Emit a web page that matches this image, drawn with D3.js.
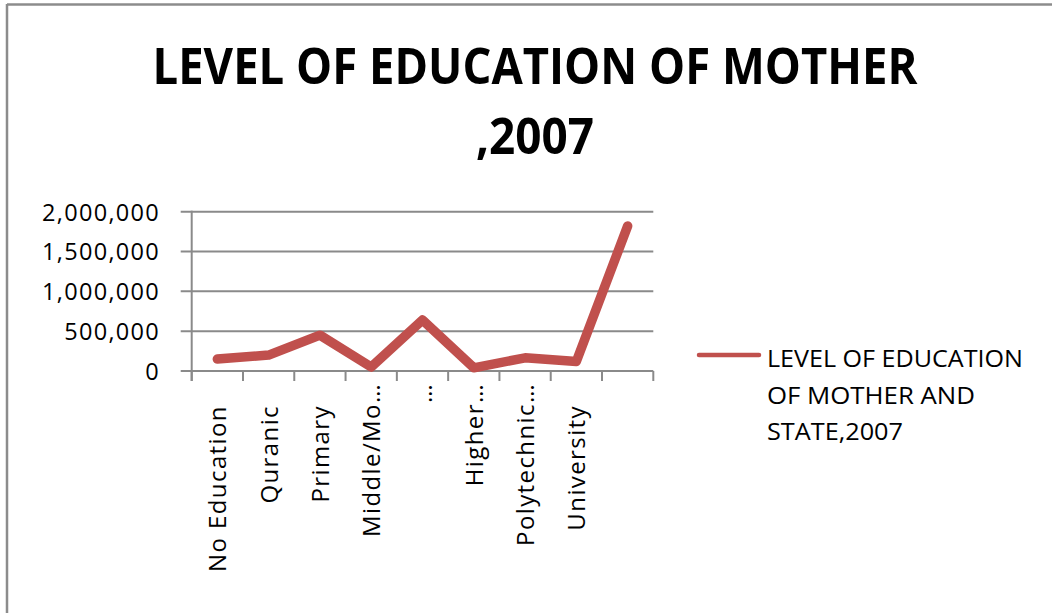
<!DOCTYPE html>
<html>
<head>
<meta charset="utf-8">
<script src="https://cdn.jsdelivr.net/npm/d3@7"></script>
<style>
  html, body { margin: 0; padding: 0; background: #fff; }
  svg { display: block; }
</style>
</head>
<body>
<svg id="chart" width="1052" height="613"></svg>
<script>
// ---- data ----
const categories = ["No Education", "Quranic", "Primary", "Middle/Mo\u2026", "\u2026", "Higher\u2026", "Polytechnic\u2026", "University", ""];
const values = [150000, 200000, 450000, 50000, 640000, 40000, 165000, 120000, 1820000];
const yTicks = [0, 500000, 1000000, 1500000, 2000000];
const titleLines = ["LEVEL OF EDUCATION OF MOTHER", ",2007"];
const legendLines = ["LEVEL OF EDUCATION", "OF MOTHER  AND", "STATE,2007"];

// ---- layout ----
const svg = d3.select("#chart");
const plot = { left: 191.7, right: 653.3, top: 211.7, bottom: 371 };
const gridColor = "#8a8a8a";
const lineColor = "#C0504D";
const font = "'Open Sans', 'Noto Sans', sans-serif";

const x = d3.scaleBand().domain(categories).range([plot.left, plot.right]).padding(0);
const y = d3.scaleLinear().domain([0, 2000000]).range([plot.bottom, plot.top]);

// outer frame (top and left edges)
svg.append("line").attr("x1", 7).attr("x2", 1052).attr("y1", 4.5).attr("y2", 4.5)
  .attr("stroke", "#8c8c8c").attr("stroke-width", 2.5);
svg.append("line").attr("x1", 7).attr("x2", 7).attr("y1", 4).attr("y2", 613)
  .attr("stroke", "#8c8c8c").attr("stroke-width", 2.5);

// title
const titleWidths = [765, 118];
const titleBase = [83.5, 153.5];
titleLines.forEach((t, i) => {
  svg.append("text")
    .attr("x", 535).attr("y", titleBase[i])
    .attr("text-anchor", "middle")
    .attr("font-family", "'Open Sans', 'DejaVu Sans', sans-serif")
    .attr("font-weight", "bold")
    .attr("font-size", 51)
    .attr("textLength", titleWidths[i])
    .attr("lengthAdjust", "spacingAndGlyphs")
    .attr("fill", "#000")
    .text(t);
});

// gridlines + y ticks
svg.append("g").selectAll("line").data(yTicks).join("line")
  .attr("x1", plot.left - 11).attr("x2", plot.right)
  .attr("y1", d => y(d)).attr("y2", d => y(d))
  .attr("stroke", gridColor).attr("stroke-width", 2);

// y axis labels via d3 axis
const yAxis = d3.axisLeft(y).tickValues(yTicks).tickFormat(d3.format(",")).tickSize(0).tickPadding(0);
const gy = svg.append("g").attr("transform", `translate(160,0)`).call(yAxis);
gy.select(".domain").remove();
gy.selectAll("text")
  .attr("font-family", font).attr("font-size", 23.5).attr("fill", "#000")
  .attr("letter-spacing", 1.3)
  .attr("dy", "0.36em");

// y axis line
svg.append("line").attr("x1", plot.left).attr("x2", plot.left)
  .attr("y1", plot.top - 1).attr("y2", plot.bottom + 10)
  .attr("stroke", gridColor).attr("stroke-width", 2);

// x axis ticks at band boundaries
const bounds = categories.map(c => x(c)).concat([plot.right]);
svg.append("g").selectAll("line").data(bounds).join("line")
  .attr("x1", d => d).attr("x2", d => d)
  .attr("y1", plot.bottom).attr("y2", plot.bottom + 10)
  .attr("stroke", gridColor).attr("stroke-width", 2);

// category labels (rotated)
svg.append("g").selectAll("text").data(categories).join("text")
  .attr("transform", d => `translate(${x(d) + x.bandwidth() / 2 + 9},${d.endsWith("\u2026") ? 383 : 405}) rotate(-90)`)
  .attr("text-anchor", "end")
  .attr("font-family", font).attr("font-size", 24).attr("fill", "#000")
  .attr("letter-spacing", 1.4)
  .text(d => d);

// series line
const line = d3.line()
  .x((d, i) => x(categories[i]) + x.bandwidth() / 2)
  .y(d => y(d));
svg.append("path").datum(values)
  .attr("d", line)
  .attr("fill", "none")
  .attr("stroke", lineColor)
  .attr("stroke-width", 9.5)
  .attr("stroke-linejoin", "round")
  .attr("stroke-linecap", "round");

// legend
svg.append("line").attr("x1", 699).attr("x2", 759).attr("y1", 355).attr("y2", 355)
  .attr("stroke", lineColor).attr("stroke-width", 4.5).attr("stroke-linecap", "round");
const legendWidths = [256, 208, 136];
svg.append("g").selectAll("text").data(legendLines).join("text")
  .attr("x", 767).attr("y", (d, i) => 367 + i * 36.5)
  .attr("font-family", font).attr("font-size", 23).attr("fill", "#000")
  .attr("textLength", (d, i) => legendWidths[i])
  .attr("lengthAdjust", "spacingAndGlyphs")
  .text(d => d);
</script>
</body>
</html>
